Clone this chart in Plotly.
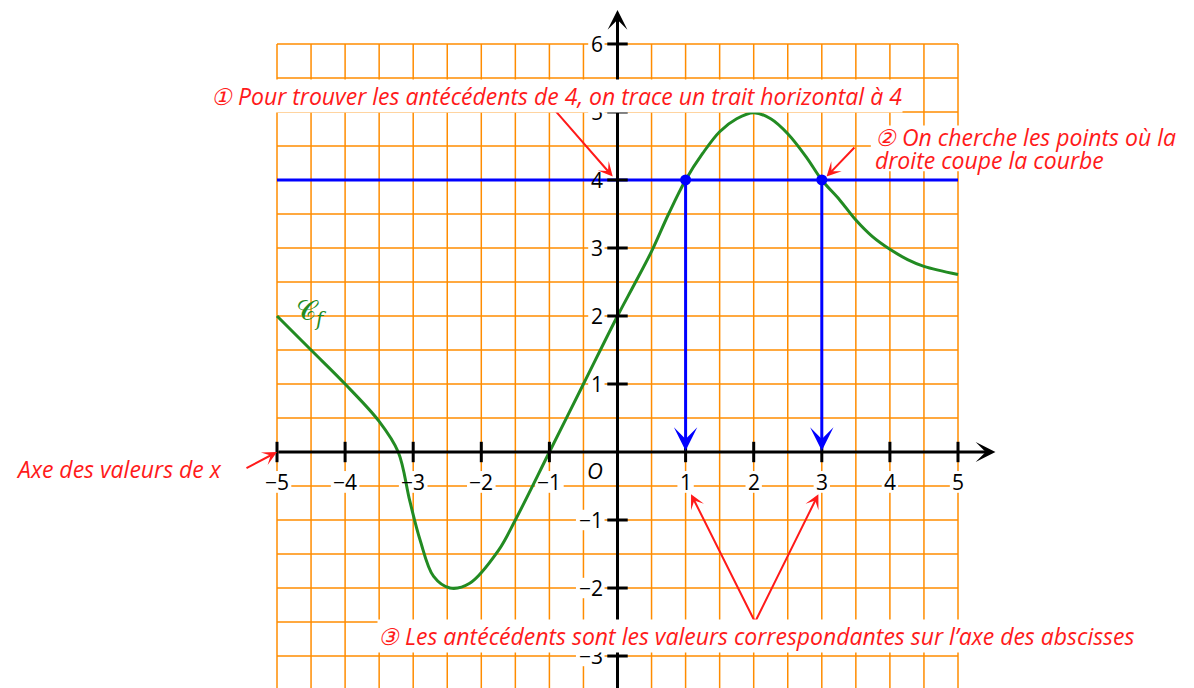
import plotly.graph_objects as go

# courbe Cf
curve_x = [-5, -4.5, -4, -3.5, -3.22, -3.05, -2.9, -2.7, -2.46, -2.17, -1.75, -1.5, -1.0,
           -0.5, 0, 0.25, 0.5, 0.75, 1.0, 1.25, 1.5, 1.75, 2.0, 2.25, 2.5, 2.77, 3.0,
           3.26, 3.5, 3.74, 4.0, 4.26, 4.5, 5.0]
curve_y = [2.0, 1.5, 1.0, 0.45, 0.0, -0.72, -1.29, -1.83, -2.0, -1.93, -1.45, -1.0, 0.0,
           1.0, 2.0, 2.47, 2.95, 3.5, 4.0, 4.39, 4.71, 4.9, 4.99, 4.9, 4.68, 4.34, 4.0,
           3.71, 3.41, 3.17, 2.98, 2.83, 2.73, 2.61]

level = 4
antecedents = [1, 3]

x_ticks = [-5, -4, -3, -2, -1, 1, 2, 3, 4, 5]
y_ticks = [-3, -2, -1, 1, 2, 3, 4, 5, 6]
x_grid = [-5 + 0.5 * i for i in range(21)]
y_grid = [-3.5 + 0.5 * i for i in range(20)]

RED = '#ff1a1a'
BLUE = '#0000ff'
GREEN = '#228b22'
ORANGE = '#ff8c00'
FONT = 'Open Sans'

def lab(v):
    return str(v).replace('-', '−')

fig = go.Figure()

# quadrillage orange
shapes = []
for gx in x_grid:
    shapes.append(dict(type='line', x0=gx, x1=gx, y0=-3.7, y1=6, line=dict(color=ORANGE, width=1.5), layer='below'))
for gy in y_grid:
    shapes.append(dict(type='line', x0=-5, x1=5, y0=gy, y1=gy, line=dict(color=ORANGE, width=1.5), layer='below'))

# fonds blancs sous les étiquettes (sous la courbe)
for t in x_ticks:
    w = 0.18 * len(lab(t)) + 0.06
    shapes.append(dict(type='rect', x0=t - w / 2, x1=t + w / 2, y0=-0.6, y1=-0.28,
                       fillcolor='white', line=dict(width=0), layer='below'))
for t in y_ticks:
    w = 0.18 * len(lab(t)) + 0.06
    shapes.append(dict(type='rect', x0=-0.19 - w, x1=-0.19, y0=t - 0.15, y1=t + 0.15,
                       fillcolor='white', line=dict(width=0), layer='below'))
shapes.append(dict(type='rect', x0=3.72, x1=5.05, y0=4.13, y1=4.8,
                   fillcolor='white', line=dict(width=0), layer='below'))

# graduations
for t in x_ticks:
    shapes.append(dict(type='line', x0=t, x1=t, y0=-0.15, y1=0.15, line=dict(color='black', width=3)))
for t in y_ticks:
    shapes.append(dict(type='line', x0=-0.15, x1=0.15, y0=t, y1=t, line=dict(color='black', width=3)))

# courbe
fig.add_trace(go.Scatter(x=curve_x, y=curve_y, mode='lines',
                         line=dict(color=GREEN, width=3, shape='spline', smoothing=1.0),
                         hoverinfo='skip'))

# droite y = 4
fig.add_trace(go.Scatter(x=[-5, 5], y=[level, level], mode='lines',
                         line=dict(color=BLUE, width=3), hoverinfo='skip'))
fig.add_trace(go.Scatter(x=antecedents, y=[level] * len(antecedents), mode='markers',
                         marker=dict(color=BLUE, size=11), hoverinfo='skip'))

annotations = []

def arrow(x, y, ax, ay, color, width, size):
    annotations.append(dict(x=x, y=y, ax=ax, ay=ay, xref='x', yref='y', axref='x', ayref='y',
                            text='', showarrow=True, arrowhead=3, arrowsize=size,
                            arrowwidth=width, arrowcolor=color, standoff=0))

# axes
arrow(5.55, 0, -5, 0, 'black', 3, 1.1)
arrow(0, 6.5, 0, -3.58, 'black', 3, 1.1)

# flèches bleues vers l'axe des abscisses
for a in antecedents:
    arrow(a, 0.02, a, level, BLUE, 3, 1.3)

# étiquettes des graduations
for t in x_ticks:
    annotations.append(dict(x=t, y=-0.44, xref='x', yref='y', text=lab(t), showarrow=False,
                            font=dict(family=FONT, size=21, color='black')))
for t in y_ticks:
    annotations.append(dict(x=-0.19, y=t, xref='x', yref='y', text=lab(t), showarrow=False,
                            xanchor='right', font=dict(family=FONT, size=21, color='black')))
annotations.append(dict(x=-0.33, y=-0.26, xref='x', yref='y', text='<i>O</i>', showarrow=False,
                        font=dict(family=FONT, size=22, color='black')))

# nom de la courbe
annotations.append(dict(x=-4.5, y=2.05, xref='x', yref='y', text='𝒞<sub><i>f</i></sub>', showarrow=False,
                        font=dict(family='DejaVu Serif', size=28, color=GREEN)))

# flèches rouges
arrow(-0.07, 4.05, -0.95, 5.06, RED, 2, 1.2)
arrow(3.07, 4.05, 3.5, 4.5, RED, 2, 1.2)
arrow(-5.0, 0.0, -5.47, -0.25, RED, 2, 1.2)
arrow(1.08, -0.62, 2.02, -2.5, RED, 2, 1.2)
arrow(2.95, -0.62, 2.02, -2.5, RED, 2, 1.2)

# textes rouges
red_font = dict(family=FONT, size=23, color=RED)
annotations.append(dict(x=-0.9, y=5.24, xref='x', yref='y', showarrow=False, bgcolor='white', borderpad=0,
                        text='<i>① Pour trouver les antécédents de 4, on trace un trait horizontal à 4</i>',
                        font=red_font))
annotations.append(dict(x=3.75, y=4.63, xref='x', yref='y', showarrow=False, xanchor='left',
                        text='<i>② On cherche les points où la</i>', font=red_font))
annotations.append(dict(x=3.75, y=4.29, xref='x', yref='y', showarrow=False, xanchor='left',
                        text='<i>droite coupe la courbe</i>', font=red_font))
annotations.append(dict(x=-7.32, y=-0.25, xref='x', yref='y', showarrow=False,
                        text='<i>Axe des valeurs de x</i>', font=red_font))
annotations.append(dict(x=2.03, y=-2.7, xref='x', yref='y', showarrow=False, bgcolor='white', borderpad=0,
                        text='<i>③ Les antécédents sont les valeurs correspondantes sur l’axe des abscisses</i>',
                        font=red_font))

fig.update_layout(
    width=1194, height=688,
    margin=dict(l=0, r=0, t=0, b=0),
    plot_bgcolor='white', paper_bgcolor='white',
    showlegend=False,
    xaxis=dict(range=[-8.950, 8.583], visible=False, fixedrange=True),
    yaxis=dict(range=[-3.588, 6.529], visible=False, fixedrange=True),
    shapes=shapes,
    annotations=annotations,
)

fig.write_html("out.html")
